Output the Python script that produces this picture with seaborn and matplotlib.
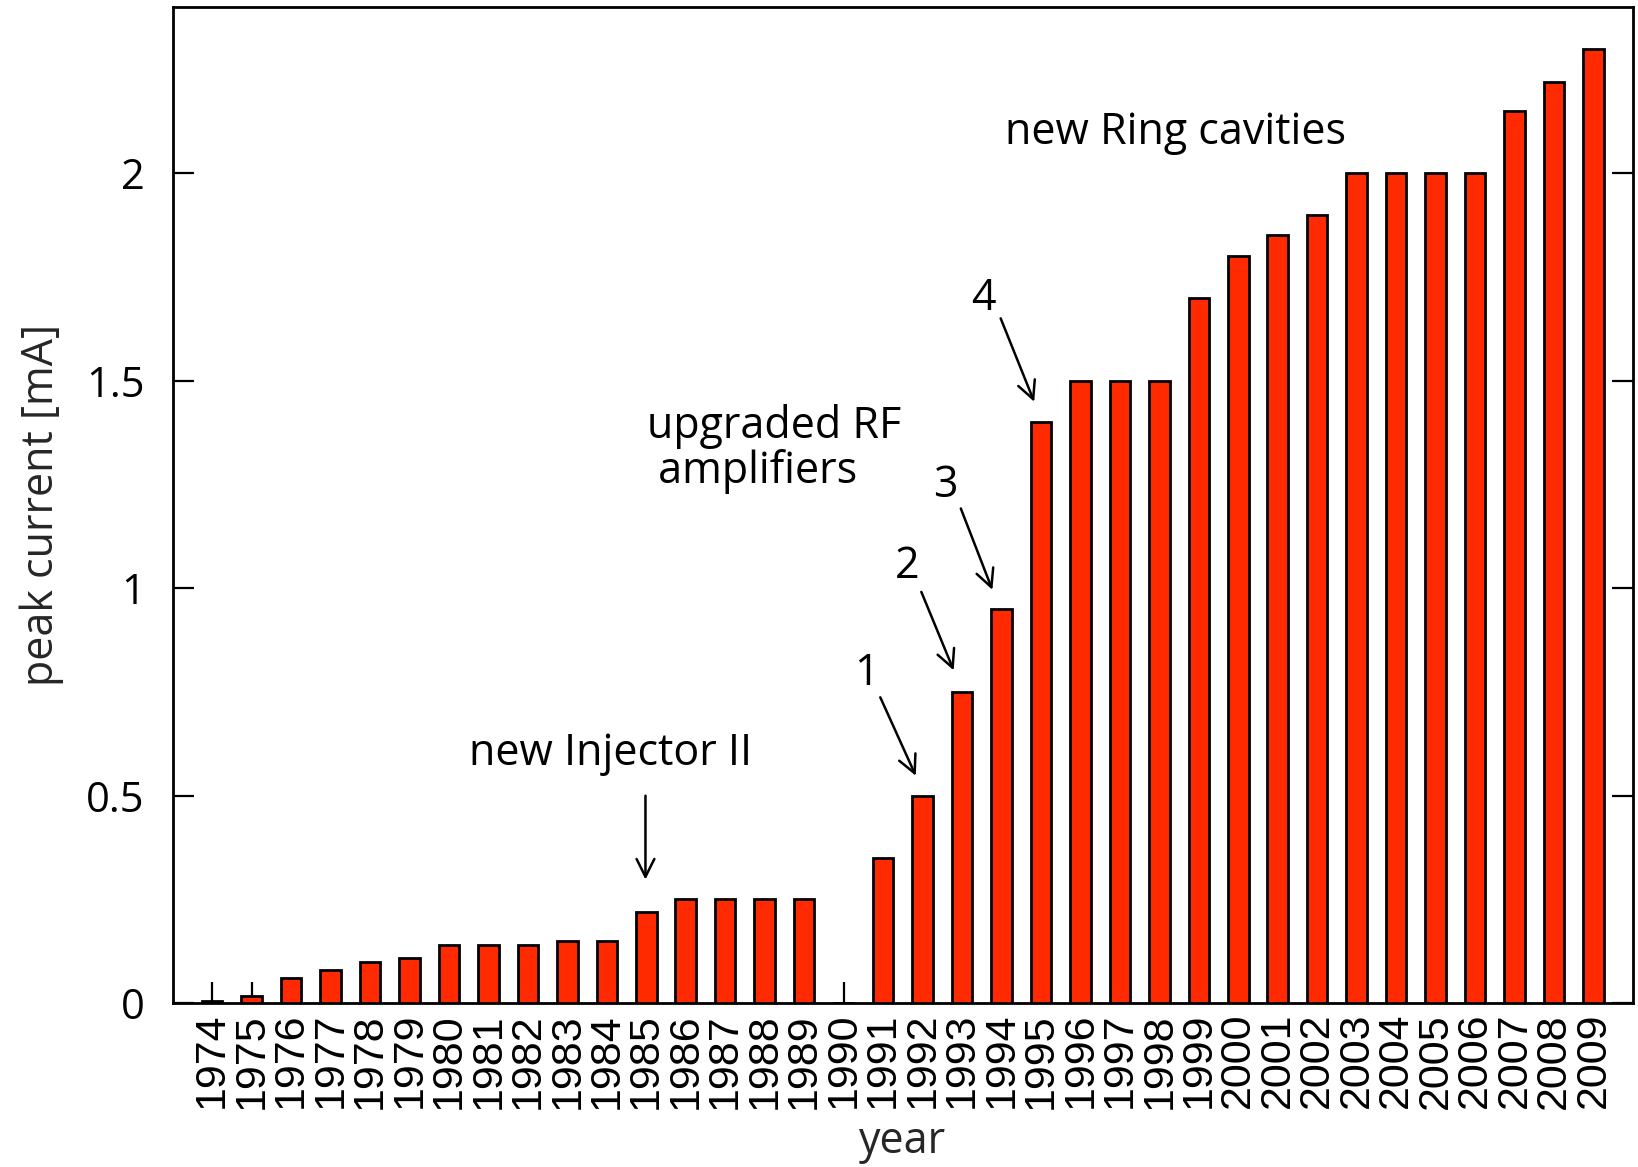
import matplotlib
matplotlib.use("Agg")
import matplotlib.pyplot as plt
import seaborn as sns
import pandas as pd
from matplotlib.ticker import FuncFormatter

# Peak beam current per year
years = ["1974", "1975", "1976", "1977", "1978", "1979", "1980", "1981", "1982",
         "1983", "1984", "1985", "1986", "1987", "1988", "1989", "1990", "1991",
         "1992", "1993", "1994", "1995", "1996", "1997", "1998", "1999", "2000",
         "2001", "2002", "2003", "2004", "2005", "2006", "2007", "2008", "2009"]
peak_current = [0.005, 0.018, 0.06, 0.08, 0.10, 0.11, 0.14, 0.14, 0.14,
                0.15, 0.15, 0.22, 0.25, 0.25, 0.25, 0.25, 0.0, 0.35,
                0.50, 0.75, 0.95, 1.40, 1.50, 1.50, 1.50, 1.70, 1.80,
                1.85, 1.90, 2.00, 2.00, 2.00, 2.00, 2.15, 2.22, 2.30]
y_ticks = [0, 0.5, 1, 1.5, 2]

df = pd.DataFrame({"year": years, "current": peak_current})

sns.set_style("ticks")
plt.rcParams["font.family"] = ["Open Sans", "DejaVu Sans"]

fig = plt.figure(figsize=(16.38, 11.67), dpi=100)
ax = fig.add_axes([0.1054, 0.1403, 0.9969 - 0.1054, 0.994 - 0.1403])

sns.barplot(data=df, x="year", y="current", color="#ff2a00", saturation=1,
            width=0.52, edgecolor="black", linewidth=2.0, ax=ax, zorder=3)

ax.set_xlim(-1, 36)
ax.set_ylim(0, 2.4)
ax.set_yticks(y_ticks)
ax.yaxis.set_major_formatter(FuncFormatter(lambda v, p: f"{v:g}"))

for side in ["left", "right", "top", "bottom"]:
    ax.spines[side].set_visible(True)
    ax.spines[side].set_linewidth(2)
    ax.spines[side].set_color("black")

ax.tick_params(axis="y", direction="in", length=15, width=1.6, right=True,
               left=True, labelsize=30, pad=20, colors="black")
ax.tick_params(axis="x", direction="in", length=15, width=1.6, top=False,
               labelsize=31, pad=7, colors="black")
for lbl in ax.get_xticklabels():
    lbl.set_rotation(90)
    lbl.set_family(["Liberation Sans", "DejaVu Sans"])
    lbl.set_va("top")
    lbl.set_ha("center")

ax.set_xlabel("year", fontsize=31, labelpad=8)
ax.set_ylabel("peak current [mA]", fontsize=31, labelpad=16)

txt_kw = dict(fontsize=31, color="black")
ax.text(24.4, 2.096, "new Ring cavities", ha="center", va="center", **txt_kw)
ax.text(11.03, 1.335, "upgraded RF\n amplifiers", ha="left", va="center",
        linespacing=1.0, **txt_kw)
ax.text(10.1, 0.60, "new Injector II", ha="center", va="center", **txt_kw)

arrow_kw = dict(arrowstyle="->", lw=1.8, color="black", mutation_scale=32,
                shrinkA=0, shrinkB=0)
ax.annotate("", xy=(10.98, 0.298), xytext=(10.98, 0.50), arrowprops=arrow_kw)

steps = [("1", (16.59, 0.794), (16.93, 0.737), (17.83, 0.548)),
         ("2", (17.60, 1.051), (17.97, 0.991), (18.79, 0.802)),
         ("3", (18.57, 1.247), (18.97, 1.192), (19.77, 0.996)),
         ("4", (19.55, 1.696), (19.98, 1.650), (20.83, 1.449))]
for label, tpos, tail, head in steps:
    ax.text(*tpos, label, ha="center", va="center", **txt_kw)
    ax.annotate("", xy=head, xytext=tail, arrowprops=arrow_kw)

fig.savefig("out.png", dpi=100)
